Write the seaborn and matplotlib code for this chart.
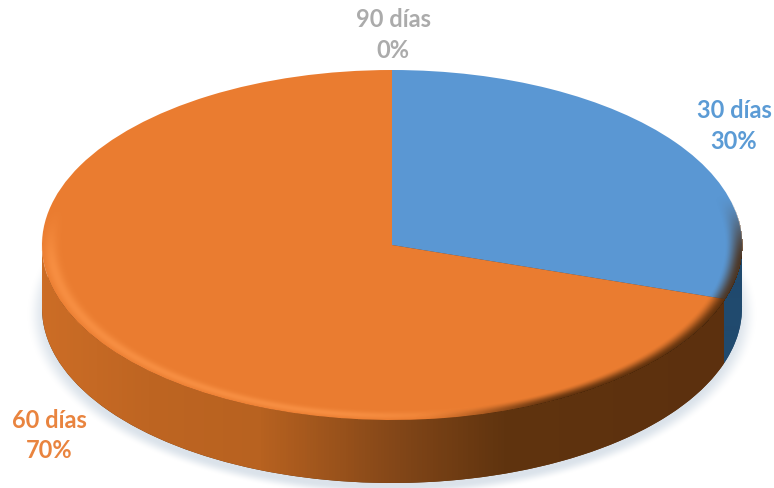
import numpy as np
import matplotlib
matplotlib.use("Agg")
import matplotlib.pyplot as plt
import seaborn as sns
from matplotlib.colors import LinearSegmentedColormap, to_rgb
from matplotlib.patches import PathPatch
from matplotlib.path import Path

# data
categories = ["30 días", "60 días", "90 días"]
shares = [30, 70, 0]
palette = sns.color_palette(["#5A97D3", "#EA7C30", "#A5A5A5"])

sns.set_theme(style="white")
plt.rcParams["font.family"] = ["Lato", "DejaVu Sans"]

W, H = 774, 489
CX, CY, RX, RY = 392, 246, 350, 175
DEPTH = 63 / RY


def to_x(px):
    return (px - CX) / RX


def to_y(py):
    return (CY - py) / RY


fig = plt.figure(figsize=(W / 100, H / 100), dpi=100)
ax = fig.add_axes([0, 0, 1, 1])

xx, yy = np.meshgrid(to_x(np.arange(W) + 0.5), to_y(np.arange(H) + 0.5))
extent = (to_x(0), to_x(W), to_y(H), to_y(0))
r_top = np.hypot(xx, yy)


def overlay(rgb, alpha, z):
    img = np.zeros((H, W, 4))
    img[..., :3] = to_rgb(rgb)
    img[..., 3] = np.clip(alpha, 0, 1)
    ax.imshow(img, extent=extent, aspect="auto", zorder=z, interpolation="bilinear")


def smooth(v):
    v = np.clip(v, 0, 1)
    return v * v * (3 - 2 * v)


# soft shadow round the disc
r_shadow = np.hypot(xx, yy + DEPTH + 0.035)
overlay("#C3D0DD", 0.6 * (1 - smooth((r_shadow - 0.985) / 0.06)) * (yy < 0.25), 1)

# lower pie, the base of the disc
ax.pie(shares, radius=1, center=(0, -DEPTH), startangle=90, counterclock=False,
       colors=[(0.13, 0.29, 0.44), (0.37, 0.2, 0.06), palette[2]],
       wedgeprops={"linewidth": 0, "zorder": 2})

# side wall, coloured by column; blue slice ends where the shares say so
boundary = np.sin(2 * np.pi * shares[0] / sum(shares))
side_cmap = LinearSegmentedColormap.from_list("side", [
    (0.00, "#CC6D26"), (0.15, "#BE6522"), (0.31, "#B86220"),
    (0.51, "#824618"), (0.66, "#60340F"), (0.975, "#5C300E"), (1.00, "#5C300E"),
])
col = (np.linspace(-1, 1, 700) + 1) / 2
band = side_cmap(col)[None, :, :].copy()
is_blue = np.linspace(-1, 1, 700) > boundary
band[0, is_blue, :3] = to_rgb("#204A6E")

t = np.linspace(np.pi, 2 * np.pi, 200)
outer = np.column_stack([np.cos(t), np.sin(t) - DEPTH])
inner = np.column_stack([np.cos(t[::-1]), np.sin(t[::-1])])
verts = np.vstack([outer, inner, outer[:1]])
clip = PathPatch(Path(verts), transform=ax.transData, fc="none", ec="none")
ax.add_patch(clip)
side = ax.imshow(band, extent=(-1, 1, -2, 2), aspect="auto", zorder=3, interpolation="bilinear")
side.set_clip_path(clip)

# top face
wedges, _ = ax.pie(shares, radius=1, startangle=90, counterclock=False, colors=palette,
                   wedgeprops={"linewidth": 0, "zorder": 4})

# bevel on the rim
light = smooth((0.4 - xx) / 0.6) * smooth((0.25 - yy) / 0.4)
dark = smooth((xx - 0.05) / 0.45) * smooth((0.3 - yy) / 0.4)
inside = r_top <= 1.002
ring_light = np.exp(-((r_top - 0.975) / 0.02) ** 2) * inside
ring_dark = smooth((r_top - 0.95) / 0.05) * inside
overlay("#FF9A4D", 0.6 * light * ring_light, 5)
overlay("#4A2608", 0.85 * dark * ring_dark, 6)

# labels
ax.text(to_x(393), to_y(19), categories[2], color="#ABABAB")
ax.text(to_x(393), to_y(50), f"{shares[2]}%", color="#ABABAB")
ax.text(to_x(734), to_y(110), categories[0], color="#5B9BD5")
ax.text(to_x(734), to_y(141), f"{shares[0]}%", color="#5B9BD5")
ax.text(to_x(49), to_y(420), categories[1], color="#E9843F")
ax.text(to_x(49), to_y(451), f"{shares[1]}%", color="#E9843F")
for txt in ax.texts:
    txt.set(ha="center", va="center", fontsize=17, fontweight="bold", zorder=8)

ax.set_aspect("auto")
ax.set_xlim(to_x(0), to_x(W))
ax.set_ylim(to_y(H), to_y(0))
ax.axis("off")

fig.savefig("out.png", dpi=100)
